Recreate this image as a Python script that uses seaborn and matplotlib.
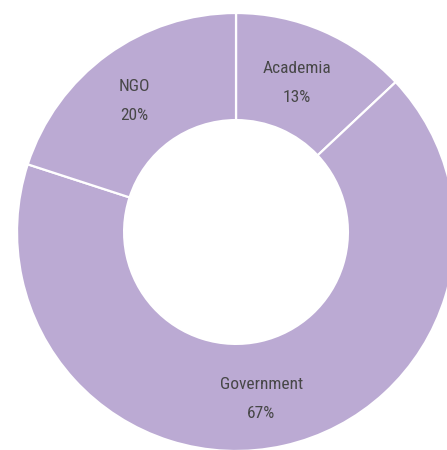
import numpy as np
import matplotlib
matplotlib.use("Agg")
import matplotlib.pyplot as plt
import seaborn as sns

# Share of respondents by sector
sectors = ["Academia", "Government", "NGO"]
shares = [13, 67, 20]

sns.set_theme(style="white")
plt.rcParams["font.family"] = ["Roboto Condensed", "Roboto", "DejaVu Sans"]

fill = "#bbaad3"
text_color = "#474747"

fig = plt.figure(figsize=(4.47, 4.50), dpi=100)
ax = fig.add_axes([0.038, -0.0022, 0.98, 0.9733])

wedges, _ = ax.pie(
    shares,
    colors=[fill] * len(shares),
    startangle=90,
    counterclock=False,
    radius=1.0,
    wedgeprops=dict(width=0.489, edgecolor="white", linewidth=1.6),
)
ax.set_xlim(-1, 1)
ax.set_ylim(-1, 1)
ax.set_aspect("equal")
ax.axis("off")

# Two-line labels near the middle of each ring segment
label_nudge = {"Government": (-8, -1.5), "Academia": (-4, -1.0), "NGO": (-3, -0.5)}
total = sum(shares)
start = 0.0
label_r = 0.76
for name, val in zip(sectors, shares):
    mid = (start + val / 2) / total * 2 * np.pi
    x, y = label_r * np.sin(mid), label_r * np.cos(mid)
    dx, dy = label_nudge.get(name, (0, 0))
    ax.annotate(name, (x, y), xytext=(dx, dy + 8.5), textcoords="offset points",
                ha="center", va="center", fontsize=12.5, color=text_color)
    ax.annotate(f"{val}%", (x, y), xytext=(dx, dy - 12.3), textcoords="offset points",
                ha="center", va="center", fontsize=12.5, color=text_color)
    start += val

fig.savefig("out.png", dpi=100)
